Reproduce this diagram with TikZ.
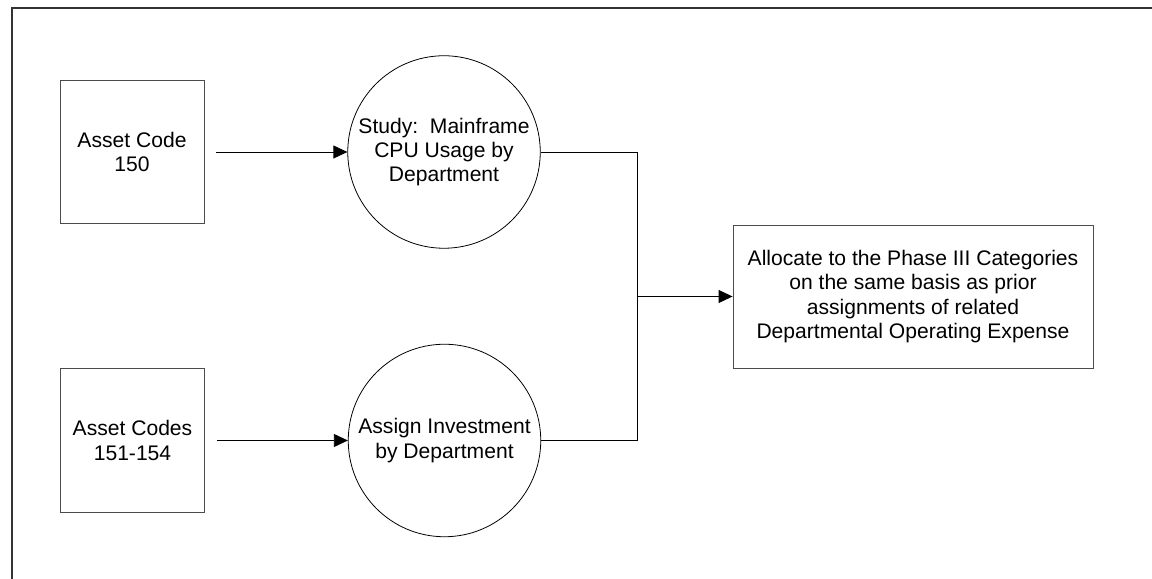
\documentclass[tikz,border=0pt]{standalone}
\usepackage{fontspec}
\setmainfont{Liberation Sans}
\usepackage{tikz}
\usetikzlibrary{arrows.meta}

\begin{document}
\begin{tikzpicture}[
	every node/.style={font=\fontsize{12}{13.9}\selectfont, align=center},
	codebox/.style={shape=rectangle,draw=black!70,line width=0.5pt,minimum width=2.88cm,minimum height=2.87cm,inner sep=0},
	study/.style={shape=circle,draw=black,line width=0.45pt,minimum size=3.85cm,inner sep=0},
	result/.style={shape=rectangle,draw=black!70,line width=0.5pt,minimum width=7.2cm,minimum height=2.86cm,inner sep=0},
	flow/.style={-{Triangle[length=0.28cm,width=0.26cm]},line width=0.5pt},
	link/.style={-,line width=0.5pt}]
	\useasboundingbox (0,0) rectangle (23.04,11.58);

	% page frame
	\draw[line width=1.1pt,black!80] (0.24,0) -- (0.24,11.42) -- (23.04,11.42);

	\node[codebox] (code150)  at (2.64, 8.54)  {Asset Code\\150};
	\node[codebox] (code151)  at (2.65, 2.77)  {Asset Codes\\151-154};
	\node[study]   (cpu)      at (8.88, 8.54)  {Study:~~Mainframe\\CPU Usage by\\Department};
	\node[study]   (assign)   at (8.89, 2.77)  {Assign Investment\\by Department};
	\node[result]  (alloc)    at (18.26, 5.65) {Allocate to the Phase III Categories\\on the same basis as prior\\assignments of related\\Departmental Operating Expense};
	\coordinate (join) at (12.74, 5.65);

	\draw[flow,shorten <=0.24cm] (code150) -- (cpu);
	\draw[flow,shorten <=0.24cm] (code151) -- (assign);
	\draw[link] (cpu.east) -| (join);
	\draw[link] (assign.east) -| (join);
	\draw[flow] (join) -- (alloc);
\end{tikzpicture}
\end{document}
